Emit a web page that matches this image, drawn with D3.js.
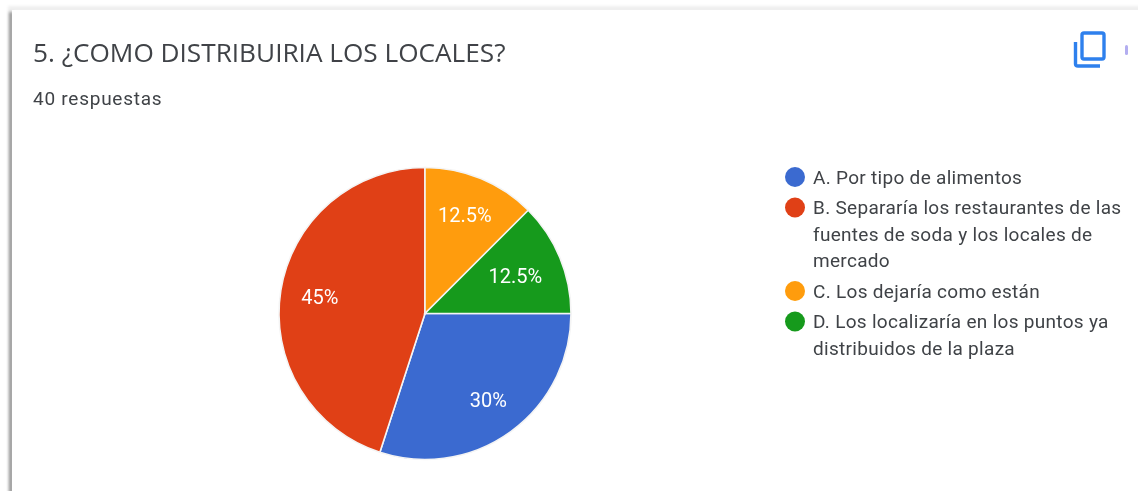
<!DOCTYPE html>
<html>
<head>
<meta charset="utf-8">
<script src="https://cdn.jsdelivr.net/npm/d3@7"></script>
<style>
  html, body { margin: 0; padding: 0; background: #fff; overflow: hidden; }
  text { font-family: Roboto, Arial, sans-serif; }
</style>
</head>
<body>
<svg id="chart" width="1138" height="491"></svg>
<script>
const categories = ["A", "B", "C", "D"];
const values = [30, 45, 12.5, 12.5];
const valueLabels = ["30%", "45%", "12.5%", "12.5%"];
const colors = ["#3b6bd0", "#e03f15", "#ff9c08", "#169a1c"];
const legendLines = [
  ["A. Por tipo de alimentos"],
  ["B. Separaría los restaurantes de las", "fuentes de soda y los locales de", "mercado"],
  ["C. Los dejaría como están"],
  ["D. Los localizaría en los puntos ya", "distribuidos de la plaza"]
];

const svg = d3.select("#chart");

// blur for the screenshot softness and the card shadow
const defs = svg.append("defs");
defs.append("filter").attr("id", "soft")
  .attr("filterUnits", "userSpaceOnUse")
  .attr("x", 0).attr("y", 0).attr("width", 1138).attr("height", 491)
  .append("feGaussianBlur").attr("stdDeviation", 0.7);
defs.append("filter").attr("id", "shadow")
  .attr("filterUnits", "userSpaceOnUse")
  .attr("x", 0).attr("y", 0).attr("width", 1138).attr("height", 491)
  .append("feGaussianBlur").attr("stdDeviation", 1.8);

// Card: strong shadow on the left, faint one along the top
svg.append("rect")
  .attr("x", 8).attr("y", 6).attr("width", 1170).attr("height", 520)
  .attr("fill", "#efefef")
  .attr("filter", "url(#shadow)");
svg.append("rect")
  .attr("x", 9).attr("y", 12).attr("width", 4).attr("height", 500)
  .attr("fill", "#979797")
  .attr("filter", "url(#shadow)");
svg.append("rect")
  .attr("x", 12).attr("y", 10).attr("width", 1160).attr("height", 520)
  .attr("fill", "#fff");

const content = svg.append("g").attr("filter", "url(#soft)");

// Header
content.append("text")
  .attr("x", 33).attr("y", 62)
  .attr("font-size", 26.2)
  .attr("fill", "#3f4347")
  .style("font-family", "'Open Sans', Roboto, sans-serif")
  .text("5. ¿COMO DISTRIBUIRIA LOS LOCALES?");

content.append("text")
  .attr("x", 33).attr("y", 105)
  .attr("font-size", 19)
  .attr("letter-spacing", 0.75)
  .attr("fill", "#3f4347")
  .text("40 respuestas");

// Copy icon
const icon = content.append("g")
  .attr("fill", "none")
  .attr("stroke", "#2f80ed")
  .attr("stroke-width", 3.4);
icon.append("rect")
  .attr("x", 1082).attr("y", 33).attr("width", 22).attr("height", 26).attr("rx", 2);
icon.append("path")
  .attr("d", "M1075.5 42 V64 Q1075.5 66 1078 66 H1100");
content.append("rect")
  .attr("x", 1125).attr("y", 45).attr("width", 3).attr("height", 10).attr("rx", 1.5)
  .attr("fill", "#b3aef0");

// Pie
const pieCenter = [425, 313.5];
const pieRadius = 146;
const pie = d3.pie()
  .sort(null)
  .startAngle(Math.PI / 2)
  .endAngle(Math.PI * 2.5);
const arc = d3.arc().innerRadius(0).outerRadius(pieRadius);
const labelArc = d3.arc().innerRadius(pieRadius * 0.715).outerRadius(pieRadius * 0.715);

const pieG = content.append("g")
  .attr("transform", `translate(${pieCenter[0]},${pieCenter[1]})`);

const slices = pie(values);

pieG.selectAll("path")
  .data(slices)
  .join("path")
  .attr("d", arc)
  .attr("fill", (d, i) => colors[i])
  .attr("stroke", "#f4f4f4")
  .attr("stroke-width", 1.6);

// small hand nudges so the labels sit where the original puts them
const labelNudge = [[2, 2], [-2, 0], [0, -2], [-6, 2]];

pieG.selectAll("text")
  .data(slices)
  .join("text")
  .attr("x", (d, i) => labelArc.centroid(d)[0] + labelNudge[i][0])
  .attr("y", (d, i) => labelArc.centroid(d)[1] + labelNudge[i][1])
  .attr("dy", "0.36em")
  .attr("text-anchor", "middle")
  .attr("font-size", 20)
  .attr("fill", "#fff")
  .text((d, i) => valueLabels[i]);

// Legend
const lineHeight = 26.5;
const legendGap = 4;
let legendY = 177;
categories.forEach((c, i) => {
  content.append("circle")
    .attr("cx", 795).attr("cy", legendY)
    .attr("r", 10)
    .attr("fill", colors[i]);

  legendLines[i].forEach((t, j) => {
    content.append("text")
      .attr("x", 813)
      .attr("y", legendY + j * lineHeight + 6.5)
      .attr("font-size", 19)
      .attr("letter-spacing", 0.3)
      .attr("fill", "#3f4347")
      .text(t);
  });
  legendY += legendLines[i].length * lineHeight + legendGap;
});
</script>
</body>
</html>
